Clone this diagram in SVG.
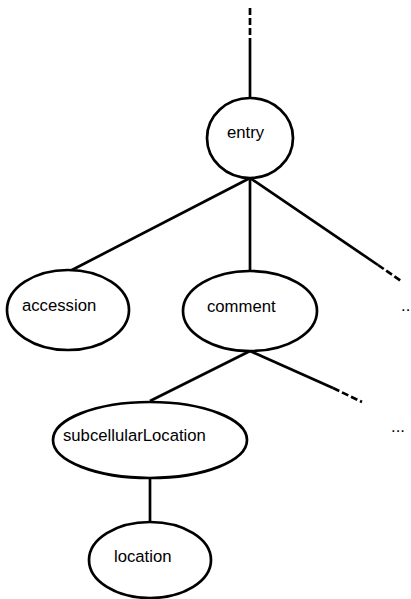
<svg xmlns="http://www.w3.org/2000/svg" width="411" height="599" viewBox="0 0 411 599">
<style>
.n{fill:#fff;stroke:#000;stroke-width:2.7}
.e{stroke:#000;stroke-width:2.7;fill:none}
.d{stroke:#000;stroke-width:2.7;fill:none;stroke-dasharray:7 3}
text{font-family:"Liberation Sans",Arial,sans-serif;font-size:16.7px;fill:#000}
</style>
<rect width="411" height="599" fill="#fff"/>
<g id="connectors">
<line class="d" x1="250" y1="8" x2="250" y2="38"/>
<line class="e" x1="250" y1="38" x2="250" y2="98"/>
<line class="e" x1="250" y1="178" x2="70" y2="271"/>
<line class="e" x1="250" y1="178" x2="250" y2="272"/>
<line class="e" x1="250" y1="178" x2="378" y2="265"/>
<line class="d" x1="378" y1="265" x2="401" y2="281"/>
<line class="e" x1="250" y1="351" x2="150" y2="401"/>
<line class="e" x1="250" y1="351" x2="333" y2="388"/>
<line class="d" x1="333" y1="388" x2="362" y2="402"/>
<line class="e" x1="150" y1="478" x2="150" y2="522"/>
</g>
<g id="entry"><ellipse class="n" cx="250" cy="138" rx="43" ry="40"/><text x="227" y="138">entry</text></g>
<g id="accession"><ellipse class="n" cx="68" cy="310" rx="61" ry="40"/><text x="22" y="311">accession</text></g>
<g id="comment"><ellipse class="n" cx="250" cy="311" rx="67" ry="40"/><text x="207" y="312">comment</text></g>
<g id="more1"><text x="401" y="311">..</text></g>
<g id="subcellularLocation"><ellipse class="n" cx="150" cy="440" rx="97" ry="38"/><text x="63" y="441">subcellularLocation</text></g>
<g id="more2"><text x="391" y="432">...</text></g>
<g id="location"><ellipse class="n" cx="150" cy="560" rx="61" ry="38"/><text x="114" y="562">location</text></g>
</svg>
